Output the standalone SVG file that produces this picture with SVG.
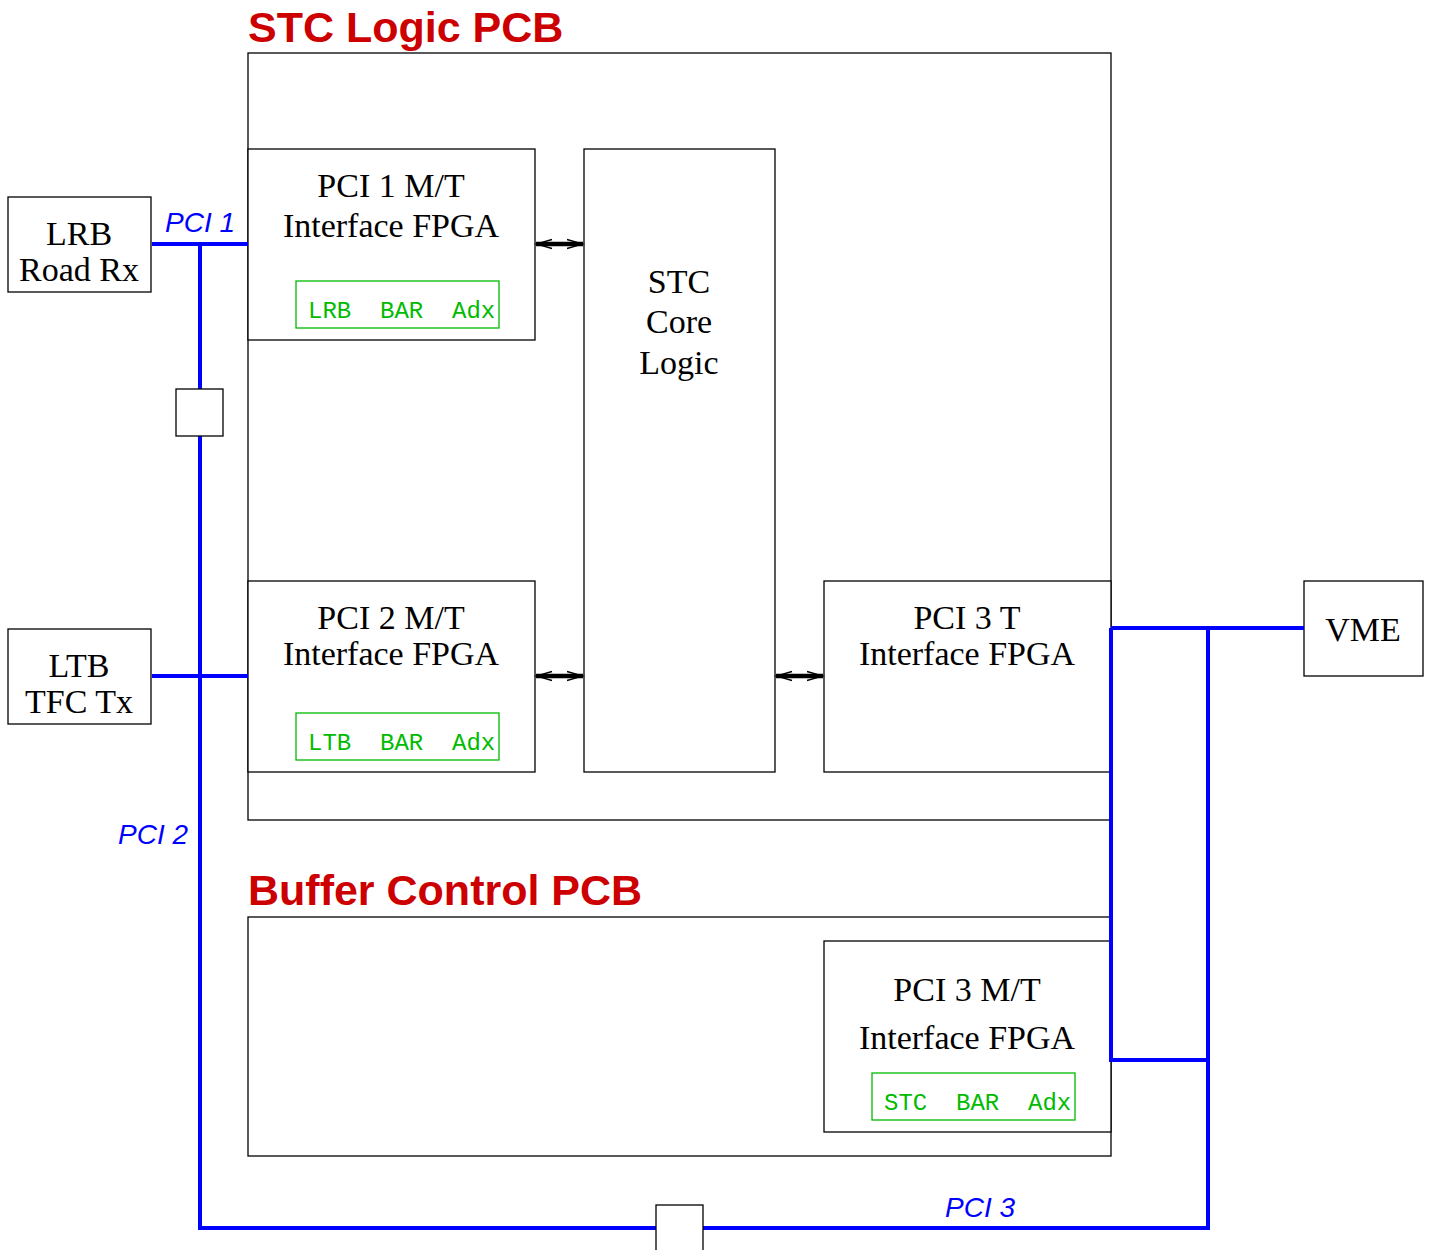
<svg xmlns="http://www.w3.org/2000/svg" width="1430" height="1250" viewBox="0 0 1430 1250">
<style>
.box{fill:#fff;stroke:#000;stroke-width:1.3}
.gbox{fill:none;stroke:#00bb00;stroke-width:1.3}
.t{font-family:"Liberation Serif",serif;font-size:34px;fill:#000;text-anchor:middle}
.g{font-family:"Courier New","Liberation Mono",monospace;font-size:24px;fill:#00bb00;white-space:pre}
.title{font-family:"Liberation Sans",sans-serif;font-size:43px;font-weight:bold;fill:#cc0000}
.bl{font-family:"Liberation Sans",sans-serif;font-size:28px;font-style:italic;fill:#0000ff}
.bus{fill:none;stroke:#0000ff;stroke-width:4}
.arr{stroke:#000;stroke-width:4.5;fill:none;marker-start:url(#ah);marker-end:url(#ah)}
</style>
<defs>
<marker id="ah" markerUnits="userSpaceOnUse" viewBox="-18 -6 20 12" refX="0" refY="0" markerWidth="20" markerHeight="12" orient="auto-start-reverse">
<path d="M-16,-4.5 L0,0 L-16,4.5" fill="none" stroke="#000" stroke-width="1.3"/>
</marker>
</defs>
<g id="stc-pcb">
<rect class="box" x="248" y="53" width="863" height="767"/>
<text class="title" x="248" y="42">STC Logic PCB</text>
</g>
<g id="buffer-pcb">
<rect class="box" x="248" y="917" width="863" height="239"/>
<text class="title" x="248" y="905">Buffer Control PCB</text>
</g>
<g id="pci1">
<rect class="box" x="248" y="149" width="287" height="191"/>
<text class="t" x="391" y="197">PCI 1 M/T</text>
<text class="t" x="391" y="237">Interface FPGA</text>
<rect class="gbox" x="296" y="281" width="203" height="47"/>
<text class="g" x="308" y="318">LRB  BAR  Adx</text>
</g>
<g id="core">
<rect class="box" x="584" y="149" width="191" height="623"/>
<text class="t" x="679" y="293">STC</text>
<text class="t" x="679" y="333">Core</text>
<text class="t" x="679" y="374">Logic</text>
</g>
<g id="pci2">
<rect class="box" x="248" y="581" width="287" height="191"/>
<text class="t" x="391" y="629">PCI 2 M/T</text>
<text class="t" x="391" y="665">Interface FPGA</text>
<rect class="gbox" x="296" y="713" width="203" height="47"/>
<text class="g" x="308" y="750">LTB  BAR  Adx</text>
</g>
<g id="pci3t">
<rect class="box" x="824" y="581" width="287" height="191"/>
<text class="t" x="967" y="629">PCI 3 T</text>
<text class="t" x="967" y="665">Interface FPGA</text>
</g>
<g id="pci3mt">
<rect class="box" x="824" y="941" width="287" height="191"/>
<text class="t" x="967" y="1001">PCI 3 M/T</text>
<text class="t" x="967" y="1049">Interface FPGA</text>
<rect class="gbox" x="872" y="1073" width="203" height="47"/>
<text class="g" x="884" y="1110">STC  BAR  Adx</text>
</g>
<g id="lrb">
<rect class="box" x="8" y="197" width="143" height="95"/>
<text class="t" x="79" y="245">LRB</text>
<text class="t" x="79" y="281">Road Rx</text>
</g>
<g id="ltb">
<rect class="box" x="8" y="629" width="143" height="95"/>
<text class="t" x="79" y="677">LTB</text>
<text class="t" x="79" y="713">TFC Tx</text>
</g>
<g id="vme">
<rect class="box" x="1304" y="581" width="119" height="95"/>
<text class="t" x="1363" y="641">VME</text>
</g>
<g id="connectors">
<path class="bus" d="M152,244 H248 M200,244 V1228 H1208 V628 M1111,628 H1304 M1111,628 V1060 H1208 M152,676 H248"/>
<line class="arr" x1="536" y1="244" x2="583" y2="244"/>
<line class="arr" x1="536" y1="676" x2="583" y2="676"/>
<line class="arr" x1="776" y1="676" x2="823" y2="676"/>
<text class="bl" x="165" y="232">PCI 1</text>
<text class="bl" x="118" y="844">PCI 2</text>
<text class="bl" x="945" y="1217">PCI 3</text>
</g>
<g id="buffer1">
<rect class="box" x="176" y="389" width="47" height="47"/>
</g>
<g id="buffer2">
<rect class="box" x="656" y="1205" width="47" height="50"/>
</g>
</svg>
